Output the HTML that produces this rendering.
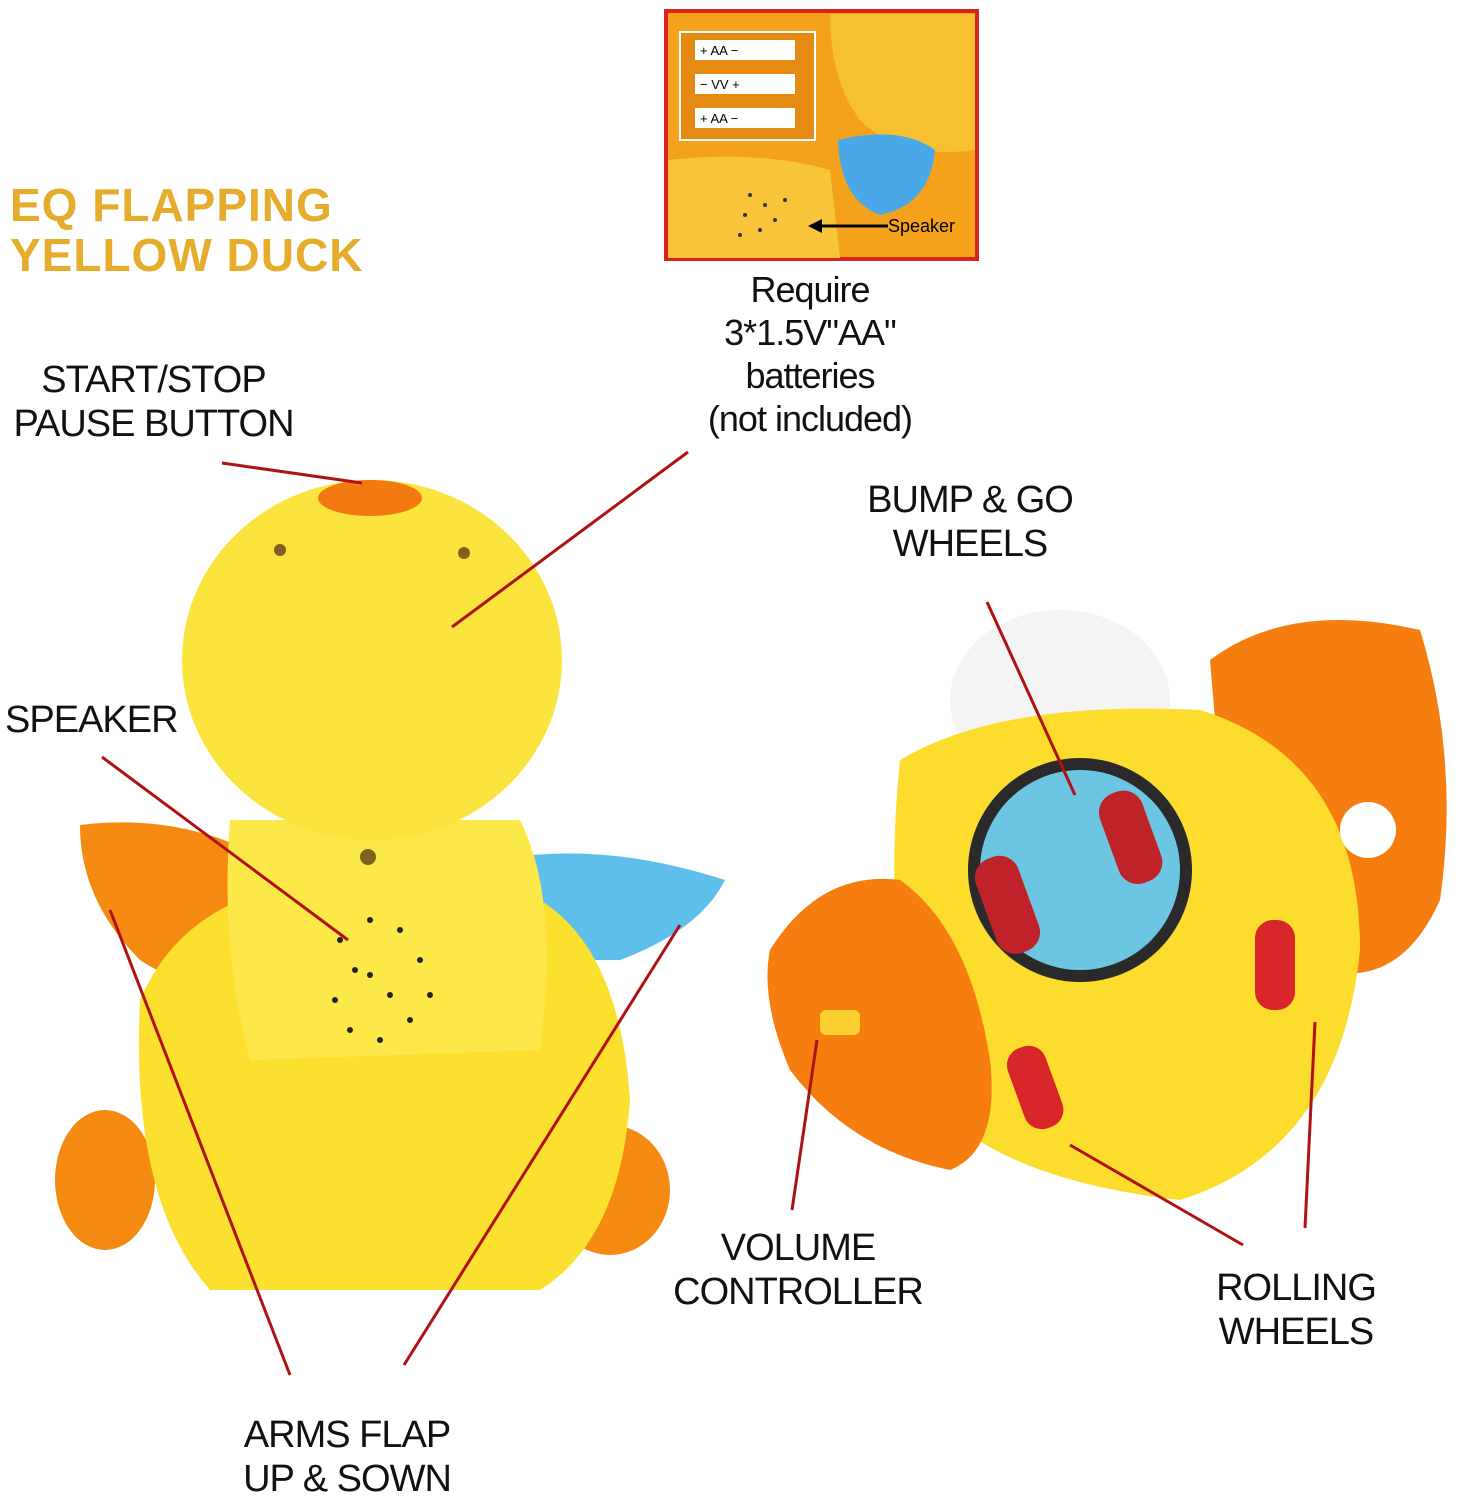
<!DOCTYPE html>
<html><head><meta charset="utf-8"><style>
body{margin:0;width:1464px;height:1500px;background:#fff;position:relative;overflow:hidden;font-family:"Liberation Sans",sans-serif}
.t{position:absolute;color:#111;font-size:38px;line-height:44px;white-space:nowrap;letter-spacing:-1px}
.c{text-align:center}
</style></head><body>
<svg width="1464" height="1500" style="position:absolute;left:0;top:0">
<rect x="666" y="11" width="311" height="248" fill="#f4a21c" stroke="#d8231e" stroke-width="4"/>
<path d="M830 14 L975 14 L975 150 Q900 160 860 120 Q830 80 830 14Z" fill="#f7c030"/>
<path d="M668 160 Q760 150 830 170 L840 258 L668 258Z" fill="#f7c43a"/>
<path d="M838 140 Q900 125 935 150 Q930 205 880 215 Q840 200 838 140Z" fill="#4aa8e8"/>
<rect x="680" y="32" width="135" height="108" fill="#e58a12" stroke="#fff" stroke-width="2"/>
<rect x="695" y="40" width="100" height="20" fill="#fff"/><rect x="695" y="74" width="100" height="20" fill="#fff"/><rect x="695" y="108" width="100" height="20" fill="#fff"/>
<text x="700" y="55" font-size="13" font-family="Liberation Sans">+      AA      −</text>
<text x="700" y="89" font-size="13" font-family="Liberation Sans">−      VV      +</text>
<text x="700" y="123" font-size="13" font-family="Liberation Sans">+      AA      −</text>
<g fill="#333"><circle cx="750" cy="195" r="2"/><circle cx="765" cy="205" r="2"/><circle cx="775" cy="220" r="2"/><circle cx="760" cy="230" r="2"/><circle cx="745" cy="215" r="2"/><circle cx="785" cy="200" r="2"/><circle cx="740" cy="235" r="2"/></g>
<line x1="812" y1="226" x2="888" y2="226" stroke="#000" stroke-width="3"/><path d="M808 226 L822 219 L822 233Z"/>
<text x="888" y="232" font-size="18" font-family="Liberation Sans">Speaker</text>
<ellipse cx="105" cy="1180" rx="50" ry="70" fill="#f58a12"/>
<ellipse cx="610" cy="1190" rx="60" ry="65" fill="#f58a12"/>
<path d="M80 825 Q200 810 300 880 L290 990 Q200 1000 140 960 Q80 900 80 825Z" fill="#f58a12"/>
<path d="M500 860 Q600 840 725 880 Q700 930 620 960 L520 960Z" fill="#5ec0ea"/>
<path d="M140 1000 Q170 930 240 900 L540 900 Q620 950 630 1100 Q620 1240 540 1290 L210 1290 Q130 1200 140 1000Z" fill="#fbe030"/>
<path d="M230 820 L520 820 Q560 900 540 1050 L250 1060 Q220 950 230 820Z" fill="#fde84a"/>
<ellipse cx="372" cy="660" rx="190" ry="180" fill="#fce43e"/>
<ellipse cx="370" cy="498" rx="52" ry="18" fill="#f27a10"/>
<circle cx="280" cy="550" r="6" fill="#806020"/><circle cx="464" cy="553" r="6" fill="#806020"/><circle cx="368" cy="857" r="8" fill="#806020"/>
<g fill="#222"><circle cx="340" cy="940" r="3"/><circle cx="370" cy="920" r="3"/><circle cx="400" cy="930" r="3"/><circle cx="420" cy="960" r="3"/><circle cx="430" cy="995" r="3"/><circle cx="410" cy="1020" r="3"/><circle cx="380" cy="1040" r="3"/><circle cx="350" cy="1030" r="3"/><circle cx="335" cy="1000" r="3"/><circle cx="370" cy="975" r="3"/><circle cx="390" cy="995" r="3"/><circle cx="355" cy="970" r="3"/></g>
<ellipse cx="1060" cy="700" rx="110" ry="90" fill="#f4f4f4"/>
<path d="M1210 660 Q1290 600 1420 630 Q1460 760 1440 900 Q1400 990 1320 970 L1220 780 Z" fill="#f67d10"/>
<path d="M900 760 Q1000 700 1200 710 Q1360 760 1360 950 Q1340 1150 1180 1200 Q1000 1180 930 1100 Q880 950 900 760Z" fill="#fcdc2c"/>
<path d="M770 950 Q820 870 900 880 Q970 930 990 1060 Q1000 1150 950 1170 Q850 1150 790 1070 Q760 1000 770 950Z" fill="#f67d10"/>
<circle cx="1080" cy="870" r="112" fill="#2a2a2a"/>
<circle cx="1080" cy="870" r="100" fill="#6cc6e2"/>
<rect x="985" y="855" width="45" height="100" rx="20" fill="#c0222a" transform="rotate(-20 1007 905)"/>
<rect x="1108" y="790" width="45" height="95" rx="20" fill="#c0222a" transform="rotate(-20 1130 837)"/>
<rect x="1255" y="920" width="40" height="90" rx="18" fill="#d8262a"/>
<rect x="1015" y="1045" width="40" height="85" rx="18" fill="#d8262a" transform="rotate(-20 1035 1087)"/>
<circle cx="1368" cy="830" r="28" fill="#fff"/>
<rect x="820" y="1010" width="40" height="25" rx="6" fill="#f8d030"/>
<g stroke="#b01212" stroke-width="3" fill="none">
<line x1="222" y1="463" x2="362" y2="483"/>
<line x1="688" y1="452" x2="452" y2="627"/>
<line x1="102" y1="757" x2="348" y2="940"/>
<line x1="110" y1="910" x2="290" y2="1375"/>
<line x1="680" y1="925" x2="404" y2="1365"/>
<line x1="987" y1="602" x2="1075" y2="795"/>
<line x1="817" y1="1040" x2="792" y2="1210"/>
<line x1="1070" y1="1145" x2="1243" y2="1245"/>
<line x1="1315" y1="1022" x2="1305" y2="1228"/>
</g>
</svg>
<div class="t" style="left:10px;top:180px;font-size:46px;line-height:50px;font-weight:bold;color:#e6ac2c;letter-spacing:1px">EQ FLAPPING<br>YELLOW DUCK</div>
<div class="t c" style="left:690px;top:268px;width:240px;font-size:36px;line-height:43px">Require<br>3*1.5V"AA"<br>batteries<br>(not included)</div>
<div class="t c" style="left:12px;top:358px;width:283px">START/STOP<br>PAUSE BUTTON</div>
<div class="t" style="left:5px;top:698px">SPEAKER</div>
<div class="t c" style="left:850px;top:478px;width:240px">BUMP &amp; GO<br>WHEELS</div>
<div class="t c" style="left:670px;top:1226px;width:256px">VOLUME<br>CONTROLLER</div>
<div class="t c" style="left:1196px;top:1266px;width:200px">ROLLING<br>WHEELS</div>
<div class="t c" style="left:217px;top:1413px;width:260px">ARMS FLAP<br>UP &amp; SOWN</div>
</body></html>
